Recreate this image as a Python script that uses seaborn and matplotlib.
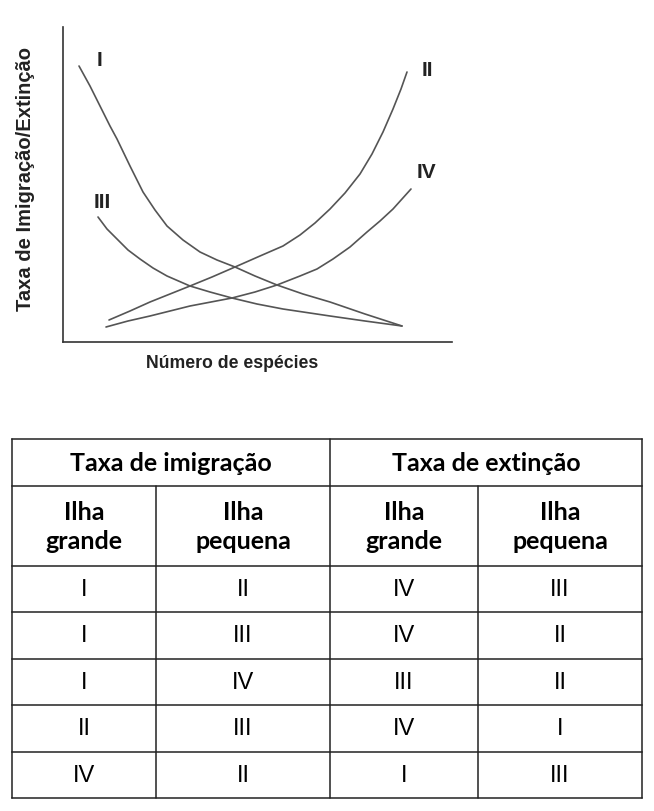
import matplotlib
matplotlib.use("Agg")
import matplotlib.pyplot as plt
import seaborn as sns
import pandas as pd

# ---- curve data (x = species number, y = rate) ----
curve_I_x = [16, 27, 37, 47, 54, 67, 80, 92, 104, 120, 137, 154, 172, 192, 214, 240, 267, 302, 339]
curve_I_y = [276, 256, 236, 216, 203, 176, 150, 132, 116, 102, 90, 82, 75, 66, 57, 48, 40, 28, 16]
curve_II_x = [46, 67, 87, 107, 127, 149, 172, 197, 220, 237, 252, 267, 282, 297, 309, 320, 330, 338, 344]
curve_II_y = [22, 31, 40, 48, 56, 65, 75, 86, 96, 107, 119, 133, 149, 168, 188, 210, 233, 253, 270]
curve_III_x = [35, 44, 54, 65, 77, 90, 104, 127, 147, 169, 194, 220, 267, 302, 339]
curve_III_y = [125, 113, 103, 92, 83, 74, 66, 56, 50, 44, 38, 33, 26, 21, 16]
curve_IV_x = [43, 65, 87, 107, 127, 148, 169, 192, 214, 237, 254, 270, 287, 304, 317, 330, 339, 348]
curve_IV_y = [15, 21, 26, 31, 36, 40, 44, 50, 57, 66, 73, 83, 95, 110, 121, 133, 143, 153]

curve_names = ["I", "II", "III", "IV"]
label_x = [36, 364, 39, 363]
label_y = [283, 273, 140, 171]

x_label = "Número de espécies"
y_label = "Taxa de Imigração/Extinção"

# ---- table data ----
header_top = ["Taxa de imigração", "Taxa de extinção"]
header_sub = ["Ilha\ngrande", "Ilha\npequena", "Ilha\ngrande", "Ilha\npequena"]
rows = [
    ["I", "II", "IV", "III"],
    ["I", "III", "IV", "II"],
    ["I", "IV", "III", "II"],
    ["II", "III", "IV", "I"],
    ["IV", "II", "I", "III"],
]

sns.set_theme(style="white")
plt.rcParams["font.family"] = ["Liberation Sans", "DejaVu Sans"]

W, H = 654, 812
fig = plt.figure(figsize=(W / 100, H / 100), dpi=100)

# ---- chart ----
ax = fig.add_axes([63 / W, 1 - 343 / H, (452 - 63) / W, (343 - 28) / H])
frames = []
for name, xs, ys in [("I", curve_I_x, curve_I_y), ("II", curve_II_x, curve_II_y),
                     ("III", curve_III_x, curve_III_y), ("IV", curve_IV_x, curve_IV_y)]:
    frames.append(pd.DataFrame({"curva": name, "x": xs, "y": ys}))
df = pd.concat(frames, ignore_index=True)
sns.lineplot(data=df, x="x", y="y", hue="curva", sort=False, estimator=None,
             palette=["#555555"] * 4, linewidth=1.2, legend=False, ax=ax)
ax.set_xlim(0, 389)
ax.set_ylim(0, 315)
ax.set_xticks([])
ax.set_yticks([])
ax.set_xlabel("")
ax.set_ylabel("")
for s in ["top", "right"]:
    ax.spines[s].set_visible(False)
for s in ["left", "bottom"]:
    ax.spines[s].set_color("#333333")
    ax.spines[s].set_linewidth(1.2)
for n, lx, ly in zip(curve_names, label_x, label_y):
    ax.text(lx, ly, n, ha="center", va="center", fontsize=15,
            fontweight="bold", color="#222222")

fig.text(26 / W, 1 - 179 / H, y_label, rotation=90, ha="center", va="center",
         fontsize=14.5, fontweight="bold", color="#222222")
fig.text(232 / W, 1 - 364 / H, x_label, ha="center", va="center",
         fontsize=12.7, fontweight="bold", color="#222222")

# ---- table ----
tx = fig.add_axes([0, 0, 1, 1])
tx.set_xlim(0, W)
tx.set_ylim(H, 0)
tx.axis("off")
col_edges = [12, 156, 330, 478, 642]
row_edges = [440, 487, 567, 613, 660, 706, 753, 799]
lc = "#222222"
lw = 1.1
for y in row_edges:
    tx.plot([col_edges[0], col_edges[-1]], [y, y], color=lc, lw=lw, solid_capstyle="projecting")
tx.plot([col_edges[0], col_edges[0]], [row_edges[0], row_edges[-1]], color=lc, lw=lw)
tx.plot([col_edges[-1], col_edges[-1]], [row_edges[0], row_edges[-1]], color=lc, lw=lw)
tx.plot([col_edges[2], col_edges[2]], [row_edges[0], row_edges[-1]], color=lc, lw=lw)
for c in (1, 3):
    tx.plot([col_edges[c], col_edges[c]], [row_edges[1], row_edges[-1]], color=lc, lw=lw)

hfont = ["Lato", "DejaVu Sans"]
for i, t in enumerate(header_top):
    cx = (col_edges[2 * i] + col_edges[2 * i + 2]) / 2
    cy = (row_edges[0] + row_edges[1]) / 2
    tx.text(cx, cy, t, ha="center", va="center", fontsize=18, fontweight="bold",
            family=hfont, color="black")
for j, t in enumerate(header_sub):
    cx = (col_edges[j] + col_edges[j + 1]) / 2
    cy = (row_edges[1] + row_edges[2]) / 2
    tx.text(cx, cy, t, ha="center", va="center", fontsize=18, fontweight="bold",
            family=hfont, color="black", linespacing=1.35)
for r, row in enumerate(rows):
    cy = (row_edges[r + 2] + row_edges[r + 3]) / 2
    for j, t in enumerate(row):
        cx = (col_edges[j] + col_edges[j + 1]) / 2
        tx.text(cx, cy, t, ha="center", va="center", fontsize=17, color="black")

fig.savefig("out.png", dpi=100)
